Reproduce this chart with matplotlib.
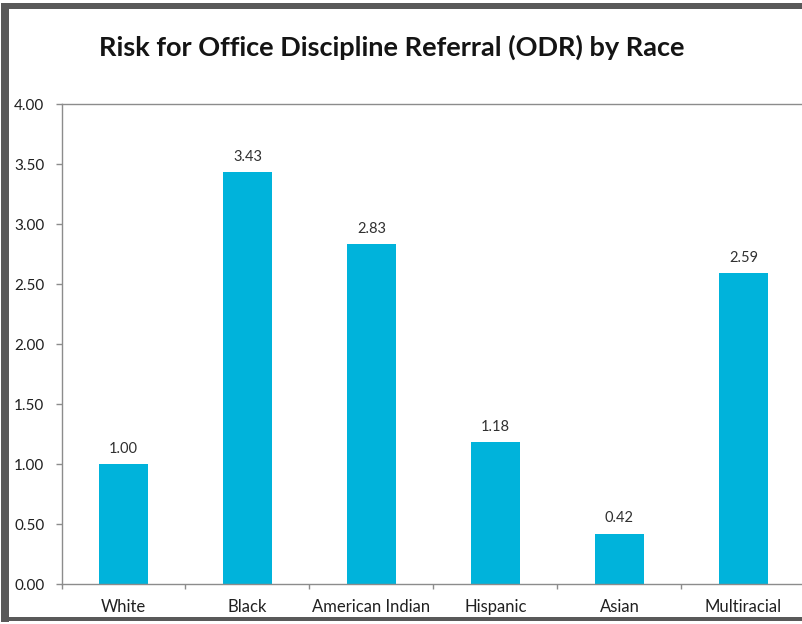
import matplotlib
matplotlib.use("Agg")
import matplotlib.pyplot as plt
from matplotlib.patches import Rectangle

categories = ["White", "Black", "American Indian", "Hispanic", "Asian", "Multiracial"]
values = [1.00, 3.43, 2.83, 1.18, 0.42, 2.59]
value_labels = ["1.00", "3.43", "2.83", "1.18", "0.42", "2.59"]
y_ticks = [0.0, 0.5, 1.0, 1.5, 2.0, 2.5, 3.0, 3.5, 4.0]
title = "Risk for Office Discipline Referral (ODR) by Race"

plt.rcParams['font.family'] = ['Lato', 'DejaVu Sans']

W, H = 802, 624
fig = plt.figure(figsize=(W / 100, H / 100), dpi=100)
fig.patch.set_facecolor("white")

# axes in pixel placement
x0, x1 = 61.5, 805.5
y_top, y_bot = 104, 584
ax = fig.add_axes([x0 / W, (H - y_bot) / H, (x1 - x0) / W, (y_bot - y_top) / H])

xs = list(range(len(categories)))
ax.bar(xs, values, width=0.4, color="#00B3DB", zorder=2)
ax.set_xlim(-0.5, len(categories) - 0.5)
ax.set_ylim(0, 4.0)

gray = "#8C8C8C"
for s in ["left", "top", "bottom"]:
    ax.spines[s].set_color(gray)
    ax.spines[s].set_linewidth(1.0)
ax.spines["right"].set_visible(False)

ax.set_yticks(y_ticks)
ax.set_yticklabels([f"{v:.2f}" for v in y_ticks])
ax.tick_params(axis="y", direction="out", length=4.3, width=1.0, color=gray,
               pad=8, labelsize=11, labelcolor="#202020")

ax.set_xticks(xs)
ax.set_xticklabels(categories)
ax.tick_params(axis="x", which="major", length=0, pad=11, labelsize=12,
               labelcolor="#202020")
ax.set_xticks([i - 0.5 for i in range(len(categories) + 1)], minor=True)
ax.tick_params(axis="x", which="minor", direction="out", length=3.6, width=1.0, color=gray)

for x, v, lab in zip(xs, values, value_labels):
    ax.annotate(lab, (x, v), xytext=(0, 6), textcoords="offset points",
                ha="center", va="bottom", fontsize=10.5, color="#303030")

fig.text(392 / W, 1 - 47 / H, title, ha="center", va="center",
         fontsize=19.5, fontweight="bold", color="#141414")

# outer frame (dark gray border)
border = "#595959"
def px_rect(x, y, w, h):
    fig.add_artist(Rectangle((x / W, 1 - (y + h) / H), w / W, h / H,
                             transform=fig.transFigure, facecolor=border,
                             edgecolor="none", zorder=10))
px_rect(1, 3, 8, 619)
px_rect(1, 3, 801, 6)
px_rect(1, 617, 801, 4)

fig.savefig("out.png", dpi=100)
